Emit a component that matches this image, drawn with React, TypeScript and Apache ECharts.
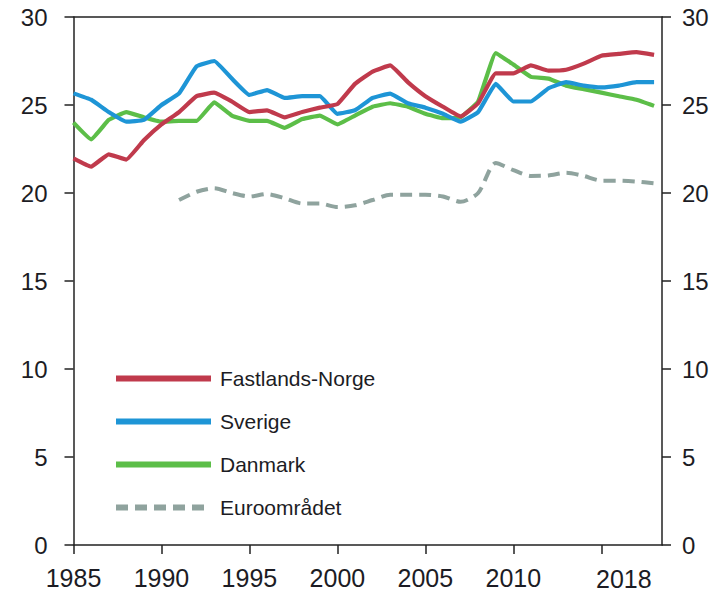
import React, { useEffect, useRef } from "react";
import * as echarts from "echarts";

const years = Array.from({ length: 34 }, (_, i) => 1985 + i);

const norge = [
  21.97, 21.5, 22.2, 21.9, 23.0, 23.9, 24.6, 25.5, 25.7, 25.2, 24.6, 24.7,
  24.3, 24.6, 24.85, 25.05, 26.2, 26.9, 27.25, 26.3, 25.5, 24.9, 24.35, 25.1,
  26.8, 26.8, 27.25, 26.95, 27.0, 27.35, 27.8, 27.9, 28.0, 27.85,
];
const sverige = [
  25.66, 25.3, 24.6, 24.05, 24.15, 25.0, 25.66, 27.2, 27.5, 26.5, 25.57, 25.85,
  25.4, 25.5, 25.5, 24.5, 24.7, 25.4, 25.65, 25.1, 24.85, 24.5, 24.05, 24.6,
  26.2, 25.2, 25.2, 25.95, 26.3, 26.1, 26.0, 26.1, 26.3, 26.3,
];
const danmark = [
  24.0, 23.05, 24.15, 24.6, 24.3, 24.05, 24.1, 24.1, 25.15, 24.4, 24.1, 24.1,
  23.7, 24.2, 24.4, 23.9, 24.4, 24.9, 25.1, 24.9, 24.5, 24.25, 24.3, 25.2,
  27.95, 27.3, 26.6, 26.5, 26.1, 25.9, 25.7, 25.5, 25.3, 24.95,
];
const euro: (number | null)[] = [
  null, null, null, null, null, null, 19.6, 20.07, 20.27, 20.0, 19.8, 19.94,
  19.7, 19.4, 19.4, 19.2, 19.3, 19.6, 19.9, 19.9, 19.9, 19.8, 19.5, 20.0,
  21.7, 21.3, 20.97, 21.0, 21.15, 20.97, 20.7, 20.7, 20.65, 20.55,
];

const seriesNames = ["Fastlands-Norge", "Sverige", "Danmark", "Euroområdet"];
const yTicks = [0, 5, 10, 15, 20, 25, 30];
const lastLabel = "2018";

const colors = ["#C03A4C", "#1E95D6", "#5CBE48", "#8FA39E"];
const font = "Liberation Sans, Arial, sans-serif";
const textColor = "#1c1c24";

export default function App() {
  const ref = useRef<HTMLDivElement>(null);
  useEffect(() => {
    if (!ref.current) return;
    const chart = echarts.init(ref.current, null, { renderer: "svg" });
    const pair = (arr: (number | null)[]) => years.map((y, i) => [y, arr[i]]);
    const datasets = [norge, sverige, danmark, euro];
    const yAxisBase = {
      type: "value",
      min: yTicks[0],
      max: yTicks[yTicks.length - 1],
      interval: 5,
      splitLine: { show: false },
      axisLine: { show: true, lineStyle: { color: "#222", width: 1.5 } },
      axisTick: { show: true, length: 9, lineStyle: { color: "#222", width: 1.5 } },
    };
    chart.setOption({
      animation: false,
      textStyle: { fontFamily: font },
      grid: { left: 73.5, right: 63, top: 17, bottom: 50, containLabel: false },
      legend: {
        orient: "vertical",
        left: 113,
        top: 368,
        padding: 0,
        itemWidth: 95,
        itemHeight: 8,
        itemGap: 22,
        data: seriesNames,
        textStyle: { fontSize: 21, color: textColor, fontFamily: font, padding: [0, 0, 0, 4] },
        lineStyle: { width: 6 },
        itemStyle: { opacity: 0, borderWidth: 0 },
      },
      xAxis: [
        {
          type: "value",
          min: 1985,
          max: 2018.45,
          interval: 5,
          position: "bottom",
          splitLine: { show: false },
          axisLine: { show: true, onZero: false, lineStyle: { color: "#222", width: 1.5 } },
          axisTick: { show: true, length: 9, lineStyle: { color: "#222", width: 1.5 } },
          axisLabel: {
            fontSize: 25,
            color: textColor,
            margin: 20,
            formatter: (v: number) => (v > 2012 ? "" : String(v)),
            showMaxLabel: false,
          },
        },
        {
          type: "value",
          min: 1985,
          max: 2018.45,
          position: "top",
          splitLine: { show: false },
          axisLine: { show: true, onZero: false, lineStyle: { color: "#222", width: 1.5 } },
          axisTick: { show: false },
          axisLabel: { show: false },
        },
      ],
      yAxis: [
        {
          ...yAxisBase,
          position: "left",
          axisLabel: { fontSize: 24, color: textColor, margin: 26 },
        },
        {
          ...yAxisBase,
          position: "right",
          axisLabel: { fontSize: 24, color: textColor, margin: 20 },
        },
      ],
      graphic: [
        {
          type: "text",
          left: 596,
          top: 566,
          style: { text: lastLabel, fontSize: 25, fill: textColor, fontFamily: font },
        },
      ],
      series: datasets.map((d, i) => ({
        name: seriesNames[i],
        type: "line",
        data: pair(d),
        symbol: "none",
        showSymbol: false,
        connectNulls: false,
        smooth: i === 3 ? 0.25 : 0.1,
        lineStyle: {
          color: colors[i],
          width: i === 3 ? 4 : 4.2,
          type: i === 3 ? [12, 7] : "solid",
        },
        itemStyle: { color: colors[i] },
        z: i === 3 ? 1 : 4 - i,
      })),
    });
    return () => chart.dispose();
  }, []);
  return (
    <div
      ref={ref}
      style={{ position: "fixed", left: 0, top: 0, width: 725, height: 595, background: "#fff" }}
    />
  );
}
